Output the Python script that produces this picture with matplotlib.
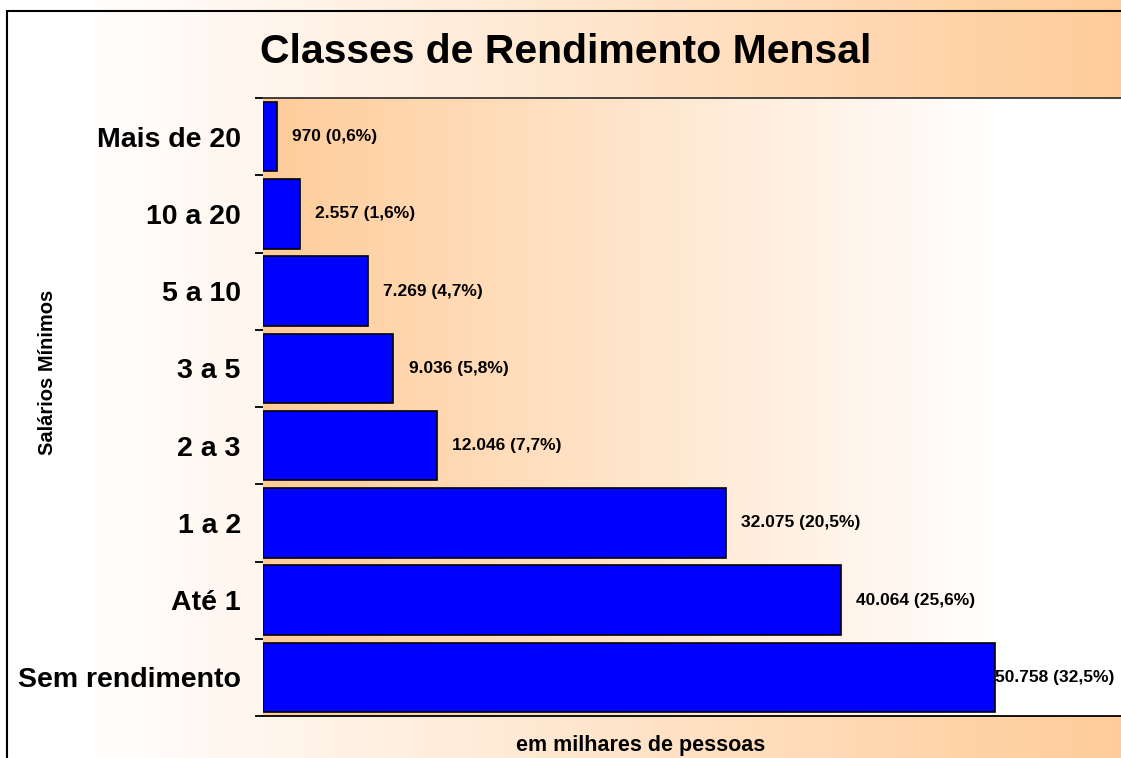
"""Classes de Rendimento Mensal - barras horizontais."""
import matplotlib
matplotlib.use("Agg")
import matplotlib.pyplot as plt
import numpy as np
from matplotlib.colors import LinearSegmentedColormap
from matplotlib.patches import Rectangle

categorias = ["Sem rendimento", "Até 1", "1 a 2", "2 a 3", "3 a 5",
              "5 a 10", "10 a 20", "Mais de 20"]
valores = [50758, 40064, 32075, 12046, 9036, 7269, 2557, 970]
percentuais = [32.5, 25.6, 20.5, 7.7, 5.8, 4.7, 1.6, 0.6]

LARANJA = "#FFCC99"
W, H = 1121, 758

plt.rcParams["font.family"] = ["Liberation Sans", "DejaVu Sans"]
plt.rcParams["font.weight"] = "bold"


def fmt_milhar(v):
    return f"{v:,}".replace(",", ".")


def fmt_pct(p):
    return f"{p:.1f}".replace(".", ",")


fig = plt.figure(figsize=(W / 100, H / 100), dpi=100)

# fundo da figura: branco -> laranja (esq -> dir)
bg = fig.add_axes([0, 0, 1, 1], zorder=-10)
cmap_fig = LinearSegmentedColormap.from_list(
    "fig", [(0, "white"), (0.07, "white"), (1, LARANJA)])
bg.imshow(np.linspace(0, 1, 256)[None, :], cmap=cmap_fig, aspect="auto",
          extent=[0, 1, 0, 1])
bg.set_xlim(0, 1)
bg.set_ylim(0, 1)
bg.axis("off")
# moldura
bg.add_patch(Rectangle((7 / W, -0.1), 1.2, 1.1 - 11 / H, fill=False,
                       ec="black", lw=1.5, clip_on=False))

x0, x1 = 263 / W, 1.0
y_top, y_bot = 1 - 98 / H, 1 - 716 / H
ax = fig.add_axes([x0, y_bot, x1 - x0, y_top - y_bot])

# fundo do gráfico: laranja -> branco
cmap_ax = LinearSegmentedColormap.from_list(
    "ax", [(0, LARANJA), (0.86, "white"), (1, "white")])
ax.imshow(np.linspace(0, 1, 256)[None, :], cmap=cmap_ax, aspect="auto",
          extent=[0, 1, 0, 1], transform=ax.transAxes, zorder=0)

y = np.arange(len(categorias))
ax.barh(y, valores, height=0.9, color="#0000FF", edgecolor="black",
        linewidth=1.2, zorder=2)

for i, (v, p) in enumerate(zip(valores, percentuais)):
    dx = 0 if i == 0 else 11
    ax.annotate(f"{fmt_milhar(v)} ({fmt_pct(p)}%)", (v, i),
                xytext=(dx, 0), textcoords="offset points",
                ha="left", va="center", fontsize=12.5, fontweight="bold",
                zorder=3, annotation_clip=False)

ax.set_xlim(0, 59470)
ax.set_ylim(-0.5, len(categorias) - 0.5)
ax.set_xticks([])
ax.set_yticks(y)
ax.set_yticklabels(categorias, fontsize=20.5, fontweight="bold")
ax.tick_params(axis="y", which="major", length=0, pad=16)
ax.set_yticks(np.arange(len(categorias) + 1) - 0.5, minor=True)
ax.tick_params(axis="y", which="minor", length=6, width=1.3, color="black")

for s in ["right", "left"]:
    ax.spines[s].set_visible(False)
ax.spines["top"].set_color("#333333")
ax.spines["bottom"].set_color("black")
ax.spines["top"].set_linewidth(1.3)
ax.spines["bottom"].set_linewidth(1.3)

fig.text(566 / W, 1 - 52 / H, "Classes de Rendimento Mensal",
         ha="center", va="center", fontsize=29.5, fontweight="bold")
fig.text(48 / W, 1 - 372 / H, "Salários Mínimos", rotation=90,
         ha="center", va="center", fontsize=14.5, fontweight="bold")
fig.text(641 / W, 1 - 745 / H, "em milhares de pessoas",
         ha="center", va="center", fontsize=15.5, fontweight="bold")

fig.savefig("out.png", dpi=100)
